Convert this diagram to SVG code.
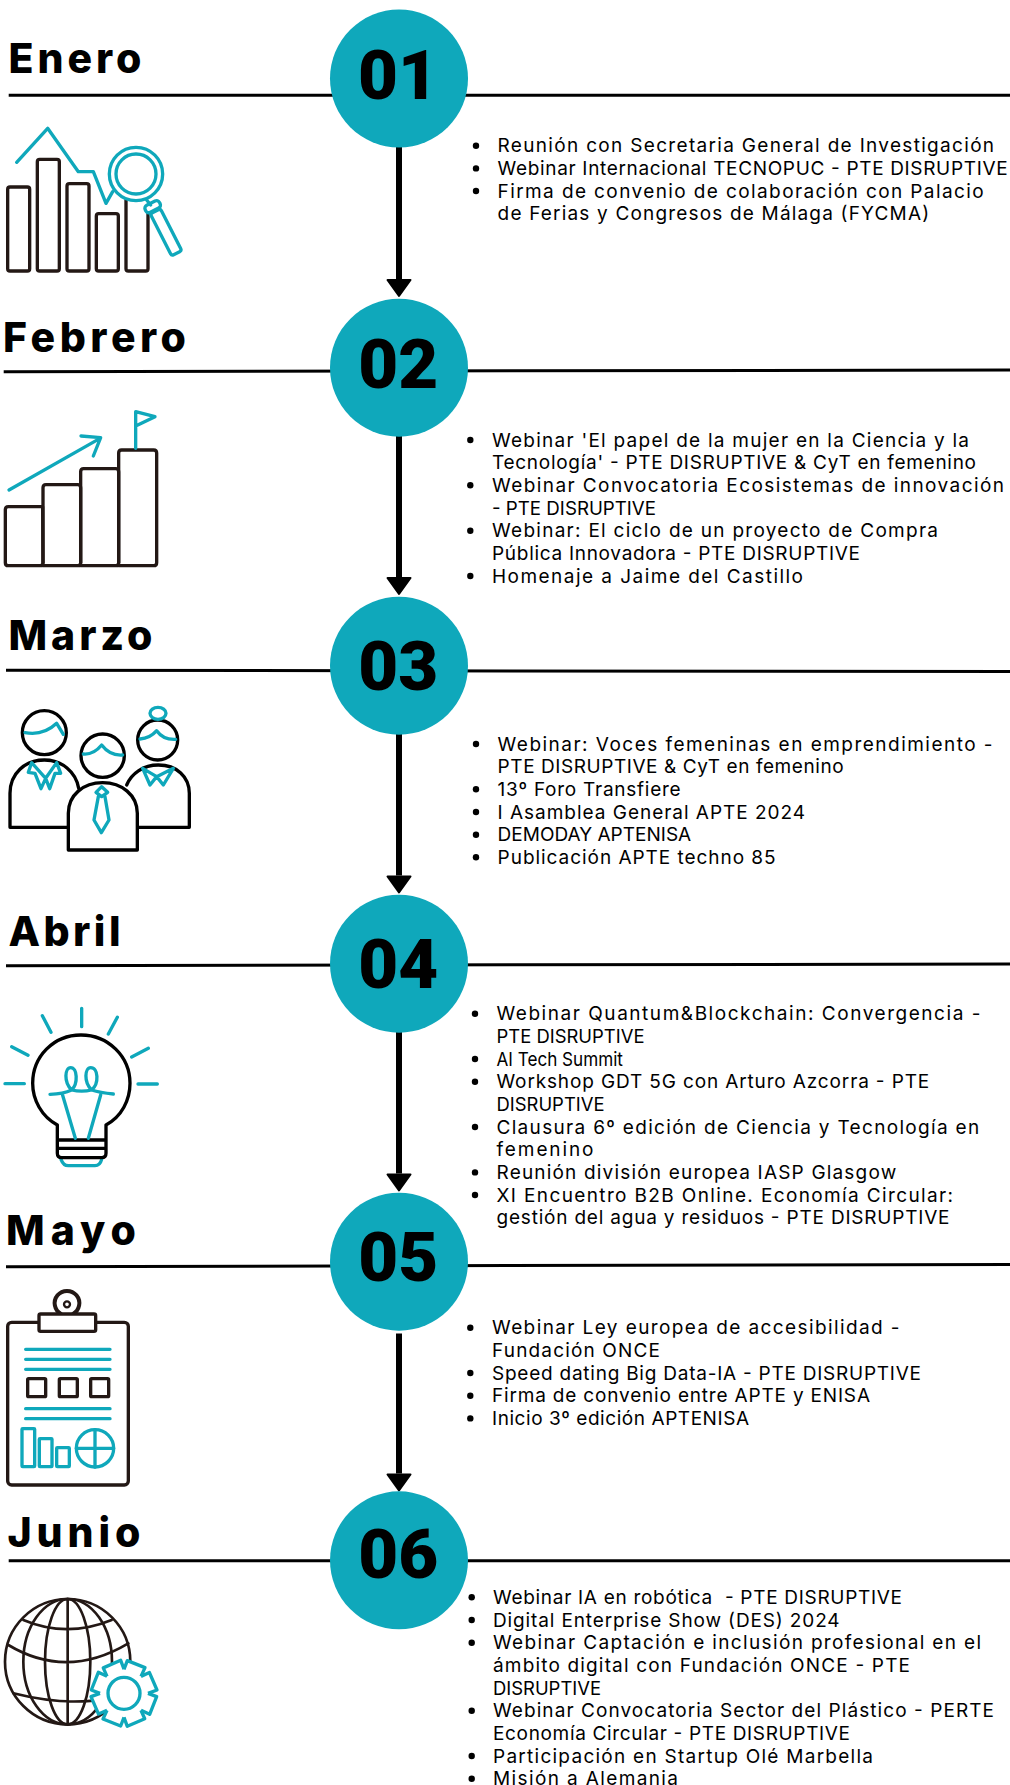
<svg xmlns="http://www.w3.org/2000/svg" xmlns:xlink="http://www.w3.org/1999/xlink" width="1010" height="1785" viewBox="0 0 1010 1785">
<style>
text{font-family:"Inter","Noto Sans","Liberation Sans",sans-serif;fill:#000}
.t{font-size:41px;font-weight:800}
.n{font-family:"Roboto","Liberation Sans",sans-serif;font-size:69px;font-weight:900;text-anchor:middle}
.l{font-size:19px;font-weight:400;white-space:pre}
.c{fill:#0fa8bb}
.r{stroke:#000;stroke-width:3;fill:none}
.b{fill:#000}
.d{stroke:#231815;stroke-width:10;fill:none;stroke-linejoin:round;stroke-linecap:round}
.k{stroke:#000;stroke-width:10;fill:none;stroke-linejoin:round;stroke-linecap:round}
.g{stroke:#0fa8bb;stroke-width:10;fill:none;stroke-linejoin:round;stroke-linecap:round}
.a{stroke:#000;stroke-width:6;fill:none;marker-end:url(#head)}
</style>
<defs>
<marker id="head" markerUnits="userSpaceOnUse" markerWidth="22" markerHeight="30" viewBox="-2 -15 22 30" refX="0" refY="0" orient="auto">
<path d="M1 -11.5L17 0L1 11.5Z" fill="#000" stroke="#000" stroke-width="2" stroke-linejoin="round"/>
</marker>
<path id="tooth" d="M0 -72L10 -98L63 -77L51 -51" fill="#fff" stroke="#0fa8bb" stroke-width="10" stroke-linejoin="round"/>
</defs>
<rect width="1010" height="1785" fill="#fff"/>
<g id="connectors">
<line class="a" x1="399" y1="147" x2="399" y2="279"/>
<line class="a" x1="399" y1="436" x2="399" y2="577"/>
<line class="a" x1="399" y1="734" x2="399" y2="875.5"/>
<line class="a" x1="399" y1="1032" x2="399" y2="1173.5"/>
<line class="a" x1="399" y1="1333.5" x2="399" y2="1473.5"/>
</g>

<g id="month-01">
<line class="r" x1="8.7" y1="95.3" x2="1010" y2="95.3"/>
<circle class="c" cx="399" cy="78.5" r="69"/>
<text class="n" x="398" y="99">01</text>
<text class="t" x="8.5" y="72.7" textLength="133">Enero</text>
<g transform="scale(.33333)">
<rect class="d" x="23" y="561" width="66" height="252" rx="7"/>
<rect class="d" x="112" y="478" width="66" height="335" rx="7"/>
<rect class="d" x="201" y="551" width="66" height="262" rx="7"/>
<rect class="d" x="289" y="641" width="66" height="172" rx="7"/>
<path class="d" d="M378 600V806q0 7 7 7h52q7 0 7-7V640"/>
<path class="g" d="M50 487L143 385L235 515H280L318 610L338 575"/>
<circle class="g" cx="408" cy="522" r="80"/>
<circle class="g" cx="408" cy="522" r="60"/>
<path class="g" d="M440 600L452 615"/>
<rect class="g" x="-24" y="-12" width="48" height="24" rx="10" transform="translate(458 620) rotate(-27)"/>
<rect class="g" x="-17" y="0" width="34" height="141" rx="7" transform="translate(466 634) rotate(-27)"/>
</g>
<g>
<circle class="b" cx="476" cy="145.7" r="3.2"/>
<circle class="b" cx="476" cy="168.4" r="3.2"/>
<circle class="b" cx="476" cy="191" r="3.2"/>
<text class="l" x="497.6" y="152.3" textLength="496.5">Reunión con Secretaria General de Investigación</text>
<text class="l" x="497.6" y="175" textLength="510">Webinar Internacional TECNOPUC - PTE DISRUPTIVE</text>
<text class="l" x="497.6" y="197.6" textLength="486">Firma de convenio de colaboración con Palacio</text>
<text class="l" x="497.6" y="220.3" textLength="431.5">de Ferias y Congresos de Málaga (FYCMA)</text>
</g>
</g>

<g id="month-02">
<line class="r" x1="3.7" y1="371.7" x2="1010" y2="370"/>
<circle class="c" cx="399" cy="367.7" r="69"/>
<text class="n" x="398.3" y="387.7">02</text>
<text class="t" x="3" y="352.3" textLength="183">Febrero</text>
<g transform="translate(0 300) scale(.33333)">
<path class="d" d="M128 620H25q-9 0-9 9V788q0 9 9 9H120q9 0 9-9Z"/>
<path class="d" d="M129 788V563q0-9 9-9H233q9 0 9 9V788q0 9-9 9H129"/>
<path class="d" d="M242 788V515q0-9 9-9H347q9 0 9 9V788q0 9-9 9H242"/>
<path class="d" d="M356 788V459q0-9 9-9H461q9 0 9 9V788q0 9-9 9H356"/>
<path class="g" d="M27 570L300 415M243 408L302 413L280 468"/>
<path class="g" d="M407 445V335L465 350L407 378"/>
</g>
<g>
<circle class="b" cx="470.3" cy="440" r="3.2"/>
<circle class="b" cx="470.3" cy="485.3" r="3.2"/>
<circle class="b" cx="470.3" cy="530.7" r="3.2"/>
<circle class="b" cx="470.3" cy="576" r="3.2"/>
<text class="l" x="492" y="446.7" textLength="477">Webinar 'El papel de la mujer en la Ciencia y la</text>
<text class="l" x="492" y="469.3" textLength="484">Tecnología' - PTE DISRUPTIVE &amp; CyT en femenino</text>
<text class="l" x="492" y="492" textLength="512">Webinar Convocatoria Ecosistemas de innovación</text>
<text class="l" x="492" y="514.7" textLength="164" lengthAdjust="spacingAndGlyphs">- PTE DISRUPTIVE</text>
<text class="l" x="492" y="537.3" textLength="446">Webinar: El ciclo de un proyecto de Compra</text>
<text class="l" x="492" y="560" textLength="368">Pública Innovadora - PTE DISRUPTIVE</text>
<text class="l" x="492" y="582.7" textLength="311">Homenaje a Jaime del Castillo</text>
</g>
</g>

<g id="month-03">
<line class="r" x1="6" y1="670.3" x2="1010" y2="671.5"/>
<circle class="c" cx="399" cy="665.7" r="69"/>
<text class="n" x="398.3" y="690">03</text>
<text class="t" x="8.5" y="650" textLength="144">Marzo</text>
<g transform="translate(0 600) scale(.33333)">
<circle class="k" cx="133" cy="398" r="66"/>
<path class="g" d="M75 398Q130 408 170 370L190 403"/>
<path class="k" d="M205 682H30V580C30 520 75 480 133 480C185 480 228 515 236 565"/>
<path class="g" d="M95 488L85 517L105 520L123 566L137 535L149 566L165 520L182 520L170 488L137 535Z"/>
<circle class="k" cx="473" cy="420" r="60"/>
<ellipse class="g" cx="474" cy="340" rx="24" ry="18"/>
<path class="g" d="M420 417Q450 415 470 392Q490 420 527 418"/>
<path class="k" d="M415 682H568V580C568 530 530 495 475 495C430 495 395 520 380 555"/>
<path class="g" d="M428 505L450 555L470 530L490 555L520 505L470 530Z"/>
<circle class="k" cx="308" cy="467" r="65"/>
<path class="g" d="M250 462Q280 465 305 435Q330 468 368 465"/>
<path class="k" d="M205 750V640C205 585 250 548 308 548C365 548 412 585 412 640V750Z"/>
<path class="g" d="M305 560L288 577L305 590L323 577ZM295 590L282 660L304 698L327 660L315 590"/>
</g>
<g>
<circle class="b" cx="476" cy="744" r="3.2"/>
<circle class="b" cx="476" cy="789.3" r="3.2"/>
<circle class="b" cx="476" cy="812" r="3.2"/>
<circle class="b" cx="476" cy="834.7" r="3.2"/>
<circle class="b" cx="476" cy="857.3" r="3.2"/>
<text class="l" x="497.6" y="750.7" textLength="495">Webinar: Voces femeninas en emprendimiento -</text>
<text class="l" x="497.6" y="773.4" textLength="346">PTE DISRUPTIVE &amp; CyT en femenino</text>
<text class="l" x="497.6" y="796" textLength="183">13º Foro Transfiere</text>
<text class="l" x="497.6" y="818.7" textLength="307.5">I Asamblea General APTE 2024</text>
<text class="l" x="497.6" y="841.4" textLength="193.6">DEMODAY APTENISA</text>
<text class="l" x="497.6" y="864" textLength="278">Publicación APTE techno 85</text>
</g>
</g>

<g id="month-04">
<line class="r" x1="6" y1="965.7" x2="1010" y2="964"/>
<circle class="c" cx="399" cy="963.7" r="69"/>
<text class="n" x="398.3" y="988.3">04</text>
<text class="t" x="8.5" y="946" textLength="112">Abril</text>
<g transform="translate(0 900) scale(.33333)">
<path class="g" d="M245 325V380M127 347L153 397M352 352L325 402M35 440L84 466M445 445L395 471M15 551H73M414 552H472"/>
<path class="g" d="M183 778Q190 797 205 797H285Q300 797 305 778"/>
<path class="k" d="M172 675V760Q172 773 185 773H305Q318 773 318 760V675C365 650 390 600 390 550C390 470 325 405 243 405C160 405 98 470 98 550C98 600 125 650 172 675ZM172 720H318M172 745H318"/>
<path class="g" d="M150 583Q190 582 215 570C190 545 195 503 212 503C232 503 235 550 215 570Q245 577 275 570C250 545 255 503 272 503C295 503 298 550 275 570Q300 578 340 582M187 583L226 715M302 585L265 715"/>
</g>
<g>
<circle class="b" cx="475" cy="1013.7" r="3.2"/>
<circle class="b" cx="475" cy="1059" r="3.2"/>
<circle class="b" cx="475" cy="1081.7" r="3.2"/>
<circle class="b" cx="475" cy="1127" r="3.2"/>
<circle class="b" cx="475" cy="1172.4" r="3.2"/>
<circle class="b" cx="475" cy="1195" r="3.2"/>
<text class="l" x="496.5" y="1020.4" textLength="484">Webinar Quantum&amp;Blockchain: Convergencia -</text>
<text class="l" x="496.5" y="1043" textLength="148" lengthAdjust="spacingAndGlyphs">PTE DISRUPTIVE</text>
<text class="l" x="496.5" y="1065.7" textLength="126.4" lengthAdjust="spacingAndGlyphs">AI Tech Summit</text>
<text class="l" x="496.5" y="1088.4" textLength="432.7">Workshop GDT 5G con Arturo Azcorra - PTE</text>
<text class="l" x="496.5" y="1111" textLength="108" lengthAdjust="spacingAndGlyphs">DISRUPTIVE</text>
<text class="l" x="496.5" y="1133.7" textLength="482.7">Clausura 6º edición de Ciencia y Tecnología en</text>
<text class="l" x="496.5" y="1156.4" textLength="97">femenino</text>
<text class="l" x="496.5" y="1179" textLength="399.7">Reunión división europea IASP Glasgow</text>
<text class="l" x="496.5" y="1201.7" textLength="456.6">XI Encuentro B2B Online. Economía Circular:</text>
<text class="l" x="496.5" y="1224.4" textLength="453">gestión del agua y residuos - PTE DISRUPTIVE</text>
</g>
</g>

<g id="month-05">
<line class="r" x1="6" y1="1266.7" x2="1010" y2="1264.5"/>
<circle class="c" cx="399" cy="1261.7" r="69"/>
<text class="n" x="398.3" y="1281">05</text>
<text class="t" x="6" y="1245" textLength="130">Mayo</text>
<g transform="translate(0 1200) scale(.33333)">
<rect class="d" x="23" y="367" width="362" height="488" rx="12"/>
<path class="d" d="M183 342A37 37 0 1 1 219 342" style="stroke-width:12"/>
<circle class="d" cx="201" cy="313" r="9" style="stroke-width:7"/>
<rect x="117" y="342" width="170" height="52" rx="5" fill="#fff" stroke="#231815" stroke-width="10"/>
<path class="g" d="M77 448H330M77 478H330M77 508H330M77 626H330M77 656H330"/>
<rect class="d" x="83" y="536" width="54" height="54" rx="3"/>
<rect class="d" x="178" y="536" width="54" height="54" rx="3"/>
<rect class="d" x="272" y="536" width="54" height="54" rx="3"/>
<rect class="g" x="66" y="686" width="38" height="114" rx="2"/>
<rect class="g" x="118" y="716" width="38" height="84" rx="2"/>
<rect class="g" x="170" y="743" width="38" height="57" rx="2"/>
<circle class="g" cx="285" cy="745" r="56"/>
<path class="g" d="M229 745H341M285 689V801"/>
</g>
<g>
<circle class="b" cx="470.3" cy="1327.7" r="3.2"/>
<circle class="b" cx="470.3" cy="1373" r="3.2"/>
<circle class="b" cx="470.3" cy="1395.7" r="3.2"/>
<circle class="b" cx="470.3" cy="1418.4" r="3.2"/>
<text class="l" x="492" y="1334.4" textLength="407.6">Webinar Ley europea de accesibilidad -</text>
<text class="l" x="492" y="1357" textLength="168">Fundación ONCE</text>
<text class="l" x="492" y="1379.7" textLength="429">Speed dating Big Data-IA - PTE DISRUPTIVE</text>
<text class="l" x="492" y="1402.4" textLength="378">Firma de convenio entre APTE y ENISA</text>
<text class="l" x="492" y="1425" textLength="257">Inicio 3º edición APTENISA</text>
</g>
</g>

<g id="month-06">
<line class="r" x1="8.7" y1="1560.7" x2="1010" y2="1560.7"/>
<circle class="c" cx="399" cy="1560.3" r="69"/>
<text class="n" x="398.3" y="1578.3">06</text>
<text class="t" x="7.5" y="1546.7" textLength="133">Junio</text>
<g transform="translate(0 1485) scale(.33333)">
<g class="d" style="stroke-width:8">
<circle cx="203" cy="530" r="188"/>
<ellipse cx="203" cy="530" rx="68" ry="188"/>
<ellipse cx="203" cy="530" rx="133" ry="188"/>
<path d="M203 342V718M70 405Q200 460 335 405M25 480Q200 585 385 475M40 625Q200 665 320 640"/>
</g>
<circle cx="372" cy="625" r="75" fill="#fff"/>
<use xlink:href="#tooth" href="#tooth" transform="translate(372 625)"/>
<use xlink:href="#tooth" href="#tooth" transform="translate(372 625) rotate(45)"/>
<use xlink:href="#tooth" href="#tooth" transform="translate(372 625) rotate(90)"/>
<use xlink:href="#tooth" href="#tooth" transform="translate(372 625) rotate(135)"/>
<use xlink:href="#tooth" href="#tooth" transform="translate(372 625) rotate(180)"/>
<use xlink:href="#tooth" href="#tooth" transform="translate(372 625) rotate(225)"/>
<use xlink:href="#tooth" href="#tooth" transform="translate(372 625) rotate(270)"/>
<use xlink:href="#tooth" href="#tooth" transform="translate(372 625) rotate(315)"/>
<circle class="g" cx="372" cy="625" r="48"/>
</g>
<g>
<circle class="b" cx="471.7" cy="1597.3" r="3.2"/>
<circle class="b" cx="471.7" cy="1620" r="3.2"/>
<circle class="b" cx="471.7" cy="1642.7" r="3.2"/>
<circle class="b" cx="471.7" cy="1710.7" r="3.2"/>
<circle class="b" cx="471.7" cy="1756" r="3.2"/>
<circle class="b" cx="471.7" cy="1778.7" r="3.2"/>
<text class="l" x="493" y="1604" textLength="409">Webinar IA en robótica  - PTE DISRUPTIVE</text>
<text class="l" x="493" y="1626.7" textLength="346.6">Digital Enterprise Show (DES) 2024</text>
<text class="l" x="493" y="1649.3" textLength="488">Webinar Captación e inclusión profesional en el</text>
<text class="l" x="493" y="1672" textLength="417">ámbito digital con Fundación ONCE - PTE</text>
<text class="l" x="493" y="1694.7" textLength="108" lengthAdjust="spacingAndGlyphs">DISRUPTIVE</text>
<text class="l" x="493" y="1717.3" textLength="501">Webinar Convocatoria Sector del Plástico - PERTE</text>
<text class="l" x="493" y="1740" textLength="357">Economía Circular - PTE DISRUPTIVE</text>
<text class="l" x="493" y="1762.7" textLength="380">Participación en Startup Olé Marbella</text>
<text class="l" x="493" y="1784.8" textLength="185">Misión a Alemania</text>
</g>
</g>
</svg>
